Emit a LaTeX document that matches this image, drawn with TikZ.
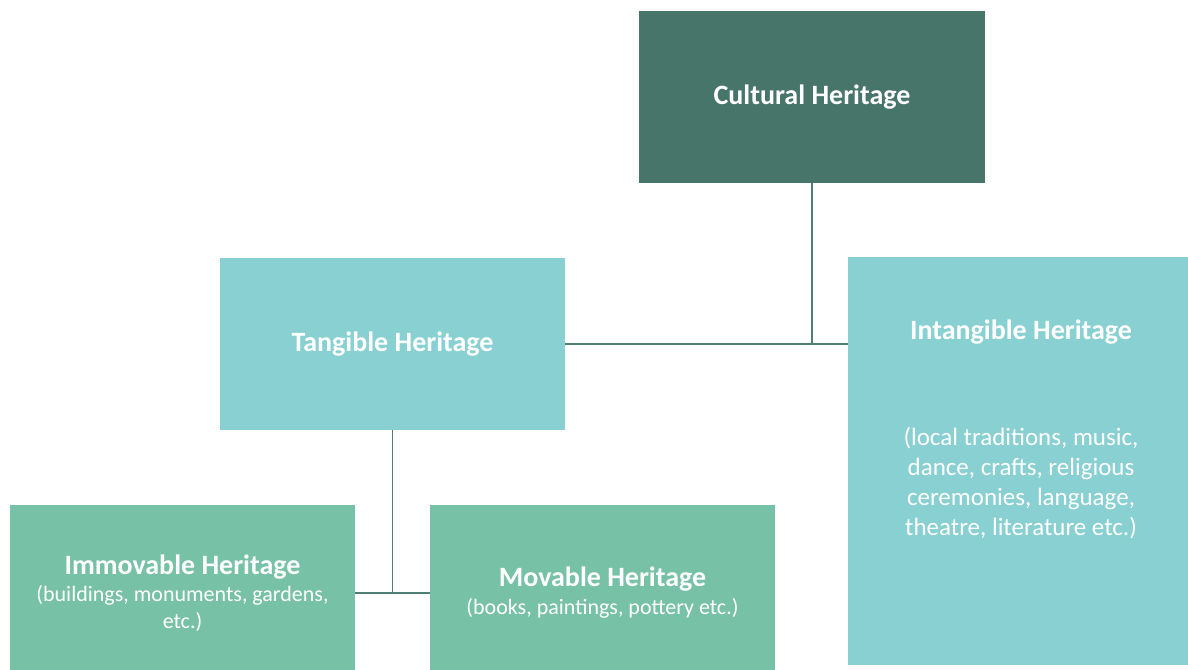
\documentclass[tikz,border=0pt]{standalone}
\usepackage{fontspec}
\setmainfont{Carlito}
\definecolor{darkteal}{HTML}{48756A}
\definecolor{lightteal}{HTML}{88D0D2}
\definecolor{midgreen}{HTML}{77C2A7}
\definecolor{linecol}{HTML}{4E7F74}
\tikzset{
  box/.style={draw=none, inner sep=0pt, align=center, text=white},
  title/.style={font=\fontsize{28}{33}\selectfont\bfseries},
  sub/.style={font=\fontsize{22}{27}\selectfont},
  conn/.style={draw=linecol, line width=1.6pt},
}
\newcommand{\ttl}[1]{{\fontsize{28}{27}\selectfont\bfseries #1}}
\begin{document}
\begin{tikzpicture}[x=1pt,y=-1pt]
\useasboundingbox (0,0) rectangle (1188,669);
\clip (0,0) rectangle (1188,669);
% boxes
\node[box, fill=darkteal, minimum width=346pt, minimum height=172pt, title] (cult) at (812,97) {Cultural Heritage};
\node[box, fill=lightteal, minimum width=345pt, minimum height=172pt, title] (tang) at (392.5,344) {Tangible Heritage};
\node[box, fill=lightteal, minimum width=340pt, minimum height=408pt] (intang) at (1018,461) {};
\node[box, title] (intangtitle) at (1021,332) {Intangible Heritage};
\node[box, font=\fontsize{25}{30}\selectfont] (intangsub) at (1021,483) {(local traditions, music,\\dance, crafts, religious\\ceremonies, language,\\theatre, literature etc.)};
\node[box, sub, fill=midgreen, minimum width=345pt, minimum height=176pt] (imm) at (182.5,593) {\ttl{Immovable Heritage}\\(buildings, monuments, gardens,\\etc.)};
\node[box, sub, fill=midgreen, minimum width=345pt, minimum height=176pt] (mov) at (602.5,593) {\ttl{Movable Heritage}\\[1pt](books, paintings, pottery etc.)};
% connectors
\draw[conn] (cult.south) -- (cult.south |- tang.east);
\draw[conn] (tang.east) -- (intang.west |- tang.east);
\draw[conn] (tang.south) -- (tang.south |- imm.east);
\draw[conn] (imm.east) -- (mov.west);
\end{tikzpicture}
\end{document}
